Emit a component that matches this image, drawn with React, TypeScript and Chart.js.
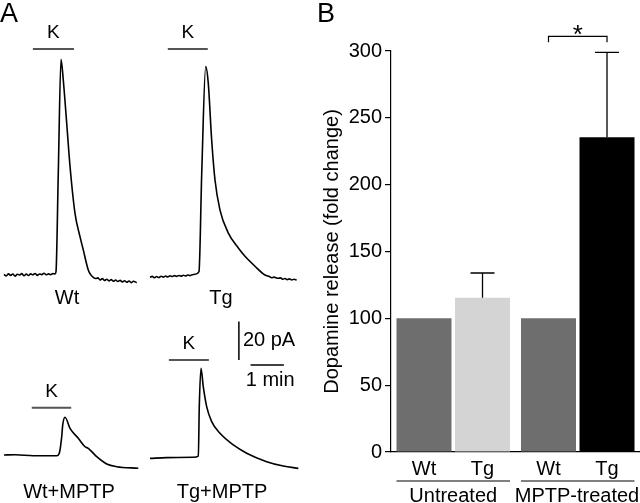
import React, { useEffect, useRef } from 'react';
import { Chart, registerables } from 'chart.js';

Chart.register(...registerables);

const FONT = '"Liberation Sans", Arial, Helvetica, sans-serif';

// ---------- Panel B data ----------
const groups = ['Untreated', 'MPTP-treated'];
const genotypes = ['Wt', 'Tg'];
const wtRelease = [100, 100];
const tgRelease = [115.4, 235.5];
const wtSem = [0, 0];
const tgSem = [18.5, 63.5];
const wtColors = ['#6e6e6e', '#6e6e6e'];
const tgColors = ['#d4d4d4', '#000000'];
const yMin = 0;
const yMax = 300;
const yStep = 50;
const sigLevel = 311;
const sigLabel = '*';

// ---------- Panel A data (time in s, current in pA) ----------
const wtTime = [0, 4, 8, 12, 16, 20, 24, 28, 32, 36, 40, 44, 48, 52, 56, 60, 64, 68, 72, 76, 80, 84, 88, 91.8,
  93.6, 97.7, 102.6, 106.7, 112.8, 118.8, 127.8, 136.8, 142.7, 151.7, 156, 160.7, 165, 169, 172.8, 177, 181,
  185, 189, 193, 197, 201, 205, 209, 213, 217, 221, 225, 229, 233, 238.9];
const wtCurrent = [0.3, -0.5, 0.6, -0.2, 0.5, -0.6, 0.4, 0.0, 0.7, -0.4, 0.5, -0.3, 0.6, 0.1, 0.8, -0.2, 0.5, 0.2, 0.9, 0.1, 0.6, 0.2, 0.7, 0.5,
  1.7, 53, 112.6, 101.8, 79.5, 56.9, 32.2, 20, 13.1, 2.6, 0.2, -1.2, -1.8, -1.5, -2.6, -1.9, -2.9,
  -2.2, -3.1, -2.4, -3.3, -2.6, -3.4, -2.8, -3.6, -3.0, -3.8, -3.1, -4.0, -3.3, -4.0];

const tgTime = [0, 4, 8, 12, 16, 20, 24, 28, 32, 36, 40, 44, 48, 52, 56, 60, 64, 68, 72, 76, 81,
  88.2, 93.1, 100.3, 104.9, 111, 117, 126, 141, 159, 171, 189, 207, 215, 219, 223, 231, 235, 239, 243, 247, 251, 255, 259, 264];
const tgCurrent = [-0.7, -0.2, -0.9, -0.3, -0.8, -0.1, -0.6, 0.0, -0.5, 0.1, -0.3, 0.2, -0.2, 0.3, -0.1, 0.4, 0.0, 0.5, 0.2, 0.7, 0.9,
  2.3, 53.5, 109.3, 100.6, 71, 50.1, 34.4, 22.4, 14.6, 10.3, 5.1, 0.5, -0.3, -0.9, -0.6, -1.2, -1.0, -1.7, -1.3, -1.9, -1.5, -2.1, -1.7, -2.1];

const wtMptpTime = [0, 20, 52.7, 94.9, 99.5, 103.9, 105.7, 109.8, 118.8, 133.7, 145.8, 151.7, 166.9, 184.9, 202.9, 241.7];
const wtMptpCurrent = [0, 0.1, -0.4, -0.4, 0.9, 9.6, 15.7, 19.7, 13.9, 8.7, 4.3, 3.5, -0.9, -4.7, -6.1, -6.9];

const tgMptpTime = [0, 30, 78, 87, 88.7, 91.8, 95.9, 102, 111, 126, 150, 174, 210, 240, 267];
const tgMptpCurrent = [-0.2, 0.2, 0.4, 1, 26.8, 46.8, 37.2, 26.8, 19, 12.9, 6.8, 2.5, -1.9, -4.2, -5.4];

const traceLabels = ['Wt', 'Tg', 'Wt+MPTP', 'Tg+MPTP'];
const kOn = [52, 32, 50, 34];
const kOff = [126, 104, 121, 106];
const kLevel = [118, 118.5, 24.7, 51.2];
const scaleBarPA = 20;
const scaleBarS = 60;
const scaleBarAt = [160, 51.2]; // time, current for vertical bar bottom
const scaleBarHoriz = [181, 48.5]; // time start, current level

// ---------- Layout (styles only) ----------
const S_PER_PX = 1.8;
const PA_PER_PX = 0.522;

type Panel = {
  left: number; top: number; width: number; height: number;
  ox: number; oy: number; labelX: number; labelY: number;
};
const panels: Panel[] = [
  { left: 0, top: 0, width: 146, height: 310, ox: 4, oy: 275, labelX: 67, labelY: 298 },
  { left: 146, top: 0, width: 154, height: 310, ox: 4, oy: 276, labelX: 75, labelY: 298 },
  { left: 0, top: 310, width: 146, height: 193, ox: 4, oy: 145, labelX: 69, labelY: 182 },
  { left: 146, top: 310, width: 154, height: 193, ox: 4, oy: 148, labelX: 76, labelY: 182 },
];

const traceTimes = [wtTime, tgTime, wtMptpTime, tgMptpTime];
const traceCurrents = [wtCurrent, tgCurrent, wtMptpCurrent, tgMptpCurrent];

function TraceChart({ idx }: { idx: number }) {
  const ref = useRef<HTMLCanvasElement | null>(null);
  const p = panels[idx];
  useEffect(() => {
    if (!ref.current) return;
    const times = traceTimes[idx];
    const vals = traceCurrents[idx];
    const xmin = -p.ox * S_PER_PX;
    const xmax = (p.width - p.ox) * S_PER_PX;
    const ymax = p.oy * PA_PER_PX;
    const ymin = -(p.height - p.oy) * PA_PER_PX;
    const overlay = {
      id: 'traceOverlay' + idx,
      afterDraw(chart: any) {
        const ctx = chart.ctx;
        const xs = chart.scales.x;
        const ys = chart.scales.y;
        ctx.save();
        // K bar
        const kx1 = xs.getPixelForValue(kOn[idx]);
        const kx2 = xs.getPixelForValue(kOff[idx]);
        const ky = ys.getPixelForValue(kLevel[idx]);
        ctx.strokeStyle = '#555';
        ctx.lineWidth = 2;
        ctx.beginPath();
        ctx.moveTo(kx1, ky);
        ctx.lineTo(kx2, ky);
        ctx.stroke();
        ctx.fillStyle = '#000';
        ctx.font = `19px ${FONT}`;
        ctx.textAlign = 'center';
        ctx.textBaseline = 'middle';
        ctx.fillText('K', (kx1 + kx2) / 2, ky - 16);
        // condition label
        ctx.font = `20px ${FONT}`;
        ctx.fillText(traceLabels[idx], p.labelX, p.labelY);
        if (idx === 0) {
          ctx.font = `27px ${FONT}`;
          ctx.textAlign = 'left';
          ctx.textBaseline = 'alphabetic';
          ctx.fillText('A', 0, 22);
        }
        if (idx === 3) {
          ctx.strokeStyle = '#000';
          ctx.lineWidth = 1.5;
          const vx = xs.getPixelForValue(scaleBarAt[0]);
          const vy1 = ys.getPixelForValue(scaleBarAt[1]);
          const vy2 = ys.getPixelForValue(scaleBarAt[1] + scaleBarPA);
          ctx.beginPath();
          ctx.moveTo(vx, vy1);
          ctx.lineTo(vx, vy2);
          ctx.stroke();
          const hx1 = xs.getPixelForValue(scaleBarHoriz[0]);
          const hx2 = xs.getPixelForValue(scaleBarHoriz[0] + scaleBarS);
          const hy = ys.getPixelForValue(scaleBarHoriz[1]);
          ctx.beginPath();
          ctx.moveTo(hx1, hy);
          ctx.lineTo(hx2, hy);
          ctx.stroke();
          ctx.font = `20px ${FONT}`;
          ctx.textAlign = 'left';
          ctx.textBaseline = 'middle';
          ctx.fillText(`${scaleBarPA} pA`, vx + 4, (vy1 + vy2) / 2);
          ctx.textAlign = 'center';
          ctx.fillText(`${scaleBarS / 60} min`, (hx1 + hx2) / 2 + 3, hy + 15);
        }
        ctx.restore();
      },
    };
    const chart = new Chart(ref.current, {
      type: 'line',
      data: {
        datasets: [
          {
            data: times.map((t, i) => ({ x: t, y: vals[i] })),
            borderColor: '#000',
            borderWidth: 1.6,
            pointRadius: 0,
            cubicInterpolationMode: 'monotone',
            clip: false as any,
            fill: false,
          },
        ],
      },
      options: {
        animation: false,
        responsive: false,
        devicePixelRatio: 1,
        layout: { padding: 0 },
        plugins: { legend: { display: false }, tooltip: { enabled: false }, title: { display: false } },
        scales: {
          x: { type: 'linear', min: xmin, max: xmax, display: false },
          y: { type: 'linear', min: ymin, max: ymax, display: false },
        },
      },
      plugins: [overlay],
    } as any);
    return () => chart.destroy();
  }, [idx]);
  return (
    <canvas
      ref={ref}
      width={p.width}
      height={p.height}
      style={{ position: 'absolute', left: p.left, top: p.top, width: p.width, height: p.height }}
    />
  );
}

function BarChart() {
  const ref = useRef<HTMLCanvasElement | null>(null);
  useEffect(() => {
    if (!ref.current) return;
    const overlay = {
      id: 'barOverlay',
      afterDraw(chart: any) {
        const ctx = chart.ctx;
        const ys = chart.scales.y;
        const metaWt = chart.getDatasetMeta(0);
        const metaTg = chart.getDatasetMeta(1);
        ctx.save();
        ctx.strokeStyle = '#000';
        ctx.lineWidth = 1.3;
        const sets: [any, number[], number[]][] = [
          [metaWt, wtRelease, wtSem],
          [metaTg, tgRelease, tgSem],
        ];
        sets.forEach(([meta, vals, sems]) => {
          meta.data.forEach((bar: any, i: number) => {
            if (!sems[i]) return;
            const x = bar.x;
            const yt = ys.getPixelForValue(vals[i]);
            const ye = ys.getPixelForValue(vals[i] + sems[i]);
            ctx.beginPath();
            ctx.moveTo(x, yt);
            ctx.lineTo(x, ye);
            ctx.moveTo(x - 12, ye);
            ctx.lineTo(x + 12, ye);
            ctx.stroke();
          });
        });
        // significance bracket
        const bx1 = metaWt.data[1].x;
        const bx2 = metaTg.data[1].x;
        const by = ys.getPixelForValue(sigLevel);
        ctx.lineWidth = 1.2;
        ctx.beginPath();
        ctx.moveTo(bx1, by + 6);
        ctx.lineTo(bx1, by);
        ctx.lineTo(bx2, by);
        ctx.lineTo(bx2, by + 6);
        ctx.stroke();
        ctx.fillStyle = '#000';
        ctx.font = `26px ${FONT}`;
        ctx.textAlign = 'center';
        ctx.textBaseline = 'alphabetic';
        ctx.fillText(sigLabel, (bx1 + bx2) / 2, by + 7);
        // genotype labels and group lines
        ctx.font = `20px ${FONT}`;
        ctx.textBaseline = 'middle';
        const bottom = chart.chartArea.bottom;
        groups.forEach((g, gi) => {
          const a = metaWt.data[gi];
          const b = metaTg.data[gi];
          ctx.fillText(genotypes[0], a.x, bottom + 17);
          ctx.fillText(genotypes[1], b.x, bottom + 17);
          const l = a.x - a.width / 2;
          const r = b.x + b.width / 2;
          ctx.lineWidth = 1;
          ctx.beginPath();
          ctx.moveTo(l, bottom + 29);
          ctx.lineTo(r, bottom + 29);
          ctx.stroke();
          const cx = gi === groups.length - 1 ? Math.min((l + r) / 2, chart.width - 63) : (l + r) / 2;
          ctx.fillText(g, cx, bottom + 44);
        });
        ctx.font = `27px ${FONT}`;
        ctx.textAlign = 'left';
        ctx.textBaseline = 'alphabetic';
        ctx.fillText('B', 17, 22);
        ctx.restore();
      },
    };
    const chart = new Chart(ref.current, {
      type: 'bar',
      data: {
        labels: groups,
        datasets: [
          { label: 'Wt', data: wtRelease, backgroundColor: wtColors, borderWidth: 0 },
          { label: 'Tg', data: tgRelease, backgroundColor: tgColors, borderWidth: 0 },
        ],
      },
      options: {
        animation: false,
        responsive: false,
        devicePixelRatio: 1,
        layout: { padding: { top: 51, left: 0, right: 0, bottom: 0 } },
        datasets: { bar: { categoryPercentage: 0.94, barPercentage: 0.94 } },
        plugins: { legend: { display: false }, tooltip: { enabled: false }, title: { display: false } },
        scales: {
          x: {
            type: 'category',
            offset: true,
            grid: { display: false },
            border: { display: true, color: '#000', width: 1.2 },
            ticks: { display: false },
            afterFit: (s: any) => { s.height = 51; },
          },
          y: {
            min: yMin,
            max: yMax,
            ticks: { stepSize: yStep, color: '#000', font: { size: 20, family: FONT }, padding: 3 },
            grid: { display: true, drawOnChartArea: false, drawTicks: true, tickLength: 6, color: '#000', lineWidth: 1.2 },
            border: { display: true, color: '#000', width: 1.2 },
            title: {
              display: true,
              text: 'Dopamine release (fold change)',
              color: '#000',
              font: { size: 20, family: FONT },
              padding: { top: 20, bottom: 0 },
            },
            afterFit: (s: any) => { s.width = 91; },
          },
        },
      },
      plugins: [overlay],
    } as any);
    return () => chart.destroy();
  }, []);
  return (
    <canvas
      ref={ref}
      width={340}
      height={503}
      style={{ position: 'absolute', left: 300, top: 0, width: 340, height: 503 }}
    />
  );
}

export default function App() {
  return (
    <div style={{ position: 'fixed', left: 0, top: 0, width: 640, height: 503, background: '#fff', overflow: 'hidden' }}>
      {panels.map((_, i) => (
        <TraceChart key={i} idx={i} />
      ))}
      <BarChart />
    </div>
  );
}
